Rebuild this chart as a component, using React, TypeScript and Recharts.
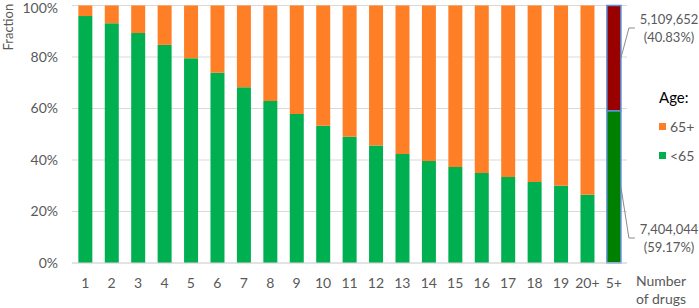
import React from 'react';
import { BarChart, Bar, XAxis, YAxis, CartesianGrid, Cell, LabelList } from 'recharts';

const categories = ['1', '2', '3', '4', '5', '6', '7', '8', '9', '10', '11', '12', '13', '14', '15', '16', '17', '18', '19', '20+', '5+'];
const under65 = [95.9, 93.1, 89.3, 84.7, 79.5, 73.9, 68.3, 62.9, 57.9, 53.3, 49.0, 45.6, 42.3, 39.6, 37.3, 35.0, 33.4, 31.5, 30.0, 26.5, 59.17];
const over65 = [4.1, 6.9, 10.7, 15.3, 20.5, 26.1, 31.7, 37.1, 42.1, 46.7, 51.0, 54.4, 57.7, 60.4, 62.7, 65.0, 66.6, 68.5, 70.0, 73.5, 40.83];
const yTicks = [0, 20, 40, 60, 80, 100];
const summaryOver = ['5,109,652', '(40.83%)'];
const summaryUnder = ['7,404,044', '(59.17%)'];

const data = categories.map((name, i) => ({ name, under: under65[i], over: over65[i] }));
const summaryIndex = categories.length - 1;

const FONT = 'Lato, "Open Sans", sans-serif';
const TEXT = '#595959';
const GREEN = '#00B050';
const ORANGE = '#FF7F27';
const DARK_GREEN = '#008000';
const DARK_RED = '#990000';
const OUTLINE = '#5B8FD6';

function makeCallout(lines: string[], side: 'top' | 'bottom') {
  return (props: any) => {
    if (props.index !== summaryIndex) return null;
    const x = Number(props.x);
    const y = Number(props.y);
    const w = Number(props.width);
    const h = Number(props.height);
    const sx = x + w;
    const sy = y + h / 2;
    const ey = side === 'top' ? y + 22.5 : y + h - 25;
    const ex = sx + 8;
    return (
      <g>
        <polyline points={`${sx},${sy} ${ex},${ey} ${ex + 6},${ey}`} fill="none" stroke="#8c8c8c" strokeWidth={1} />
        <text x={669} y={ey - 4} textAnchor="middle" fill={TEXT} fontSize={13} fontFamily={FONT}>{lines[0]}</text>
        <text x={669} y={ey + 14} textAnchor="middle" fill={TEXT} fontSize={13} fontFamily={FONT}>{lines[1]}</text>
      </g>
    );
  };
}

function AgeLegend() {
  const items = [
    { label: '65+', color: ORANGE },
    { label: '<65', color: GREEN },
  ];
  return (
    <div style={{ position: 'absolute', left: 659, top: 88, fontFamily: FONT, color: TEXT }}>
      <div style={{ color: '#000', fontSize: 15, marginBottom: 6 }}>Age:</div>
      {items.map(it => (
        <div key={it.label} style={{ display: 'flex', alignItems: 'center', fontSize: 14, height: 29 }}>
          <span style={{ width: 7, height: 7, background: it.color, marginRight: 4 }} />
          {it.label}
        </div>
      ))}
    </div>
  );
}

function XAxisTitle(props: any) {
  const vb = props.viewBox || {};
  const cx = vb.x + vb.width + 34;
  return (
    <g fill={TEXT} fontSize={14} fontFamily={FONT}>
      <text x={cx} y={vb.y + 23} textAnchor="middle">Number</text>
      <text x={cx} y={vb.y + 41} textAnchor="middle">of drugs</text>
    </g>
  );
}

function YAxisTitle(props: any) {
  const vb = props.viewBox || {};
  const x = 13;
  const y = vb.y + 45;
  return (
    <text x={x} y={y} transform={`rotate(-90 ${x} ${y})`} textAnchor="start" fill={TEXT} fontSize={13} fontFamily={FONT}>
      Fraction
    </text>
  );
}

export default function App() {
  return (
    <div style={{ position: 'absolute', left: 0, top: 0, width: 699, height: 308, background: '#fff' }}>
      <BarChart
        width={699}
        height={308}
        data={data}
        margin={{ top: 5.5, right: 72, bottom: 0, left: 12 }}
        barCategoryGap="24%"
      >
        <CartesianGrid vertical={false} stroke="#D9D9D9" />
        <XAxis
          dataKey="name"
          height={45}
          axisLine={{ stroke: '#D9D9D9' }}
          tickLine={false}
          tickMargin={9}
          tick={{ fill: TEXT, fontSize: 14, fontFamily: FONT }}
          interval={0}
          label={<XAxisTitle />}
        />
        <YAxis
          width={60}
          domain={[0, 100]}
          ticks={yTicks}
          tickFormatter={(v: number) => `${v}%`}
          axisLine={false}
          tickLine={false}
          tickMargin={8}
          tick={{ fill: TEXT, fontSize: 14, fontFamily: FONT }}
          label={<YAxisTitle />}
        />
        <Bar dataKey="under" stackId="a" fill={GREEN} isAnimationActive={false}>
          {data.map((d, i) => (
            <Cell
              key={d.name}
              fill={i === summaryIndex ? DARK_GREEN : GREEN}
              stroke={i === summaryIndex ? OUTLINE : 'none'}
              strokeWidth={i === summaryIndex ? 1.5 : 0}
            />
          ))}
          <LabelList dataKey="under" content={makeCallout(summaryUnder, 'bottom')} />
        </Bar>
        <Bar dataKey="over" stackId="a" fill={ORANGE} isAnimationActive={false}>
          {data.map((d, i) => (
            <Cell
              key={d.name}
              fill={i === summaryIndex ? DARK_RED : ORANGE}
              stroke={i === summaryIndex ? OUTLINE : 'none'}
              strokeWidth={i === summaryIndex ? 1.5 : 0}
            />
          ))}
          <LabelList dataKey="over" content={makeCallout(summaryOver, 'top')} />
        </Bar>
      </BarChart>
      <AgeLegend />
    </div>
  );
}
